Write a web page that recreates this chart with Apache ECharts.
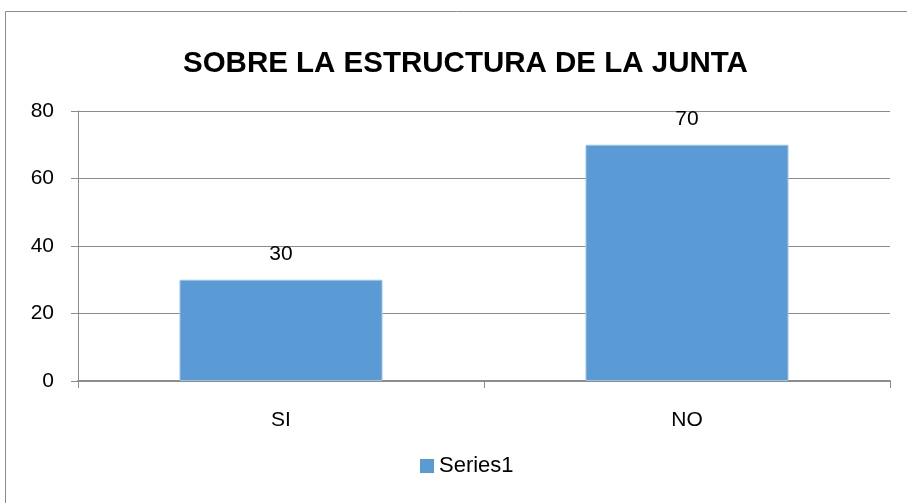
<!DOCTYPE html>
<html><head><meta charset="utf-8">
<script src="https://cdn.jsdelivr.net/npm/echarts@6/dist/echarts.min.js"></script>
<style>html,body{margin:0;padding:0;background:#fff}#c{width:907px;height:503px}</style>
</head><body><div id="c"></div>
<script>
var titleText = 'SOBRE LA ESTRUCTURA DE LA JUNTA';
var categories = ['SI', 'NO'];
var seriesName = 'Series1';
var values = [30, 70];
var yTicks = {min: 0, max: 80, interval: 20};

var font = 'Liberation Sans';
var chart = echarts.init(document.getElementById('c'));
chart.setOption({
  animation: false,
  backgroundColor: '#fff',
  graphic: [{type: 'rect', shape: {x: 5.5, y: 11.5, width: 920, height: 520}, style: {fill: 'none', stroke: '#8c8c8c', lineWidth: 1}}],
  title: {text: titleText, left: 178, top: 44, textStyle: {fontFamily: font, fontWeight: 'bold', fontSize: 29.5, color: '#000'}},
  legend: {data: [seriesName], bottom: 21, left: 415, icon: 'rect', itemWidth: 14, itemHeight: 14, itemGap: 7,
    itemStyle: {borderWidth: 0},
    textStyle: {fontFamily: font, fontSize: 22, color: '#000'}},
  grid: {left: 78, right: 17, top: 111, bottom: 122, containLabel: false},
  xAxis: {type: 'category', data: categories,
    axisLine: {lineStyle: {color: '#8c8c8c', width: 2}},
    axisTick: {show: true, length: 7, lineStyle: {color: '#8c8c8c'}},
    axisLabel: {fontFamily: font, fontSize: 21, color: '#000', margin: 29}},
  yAxis: {type: 'value', min: yTicks.min, max: yTicks.max, interval: yTicks.interval,
    axisLine: {show: true, lineStyle: {color: '#8c8c8c'}},
    axisTick: {show: true, length: 7, lineStyle: {color: '#8c8c8c'}},
    splitLine: {lineStyle: {color: '#8c8c8c'}},
    axisLabel: {fontFamily: font, fontSize: 21, color: '#000', margin: 24}},
  series: [{name: seriesName, type: 'bar', data: values, barCategoryGap: '50%',
    itemStyle: {color: '#5b9bd5', borderColor: '#9fc3e7', borderWidth: 1},
    label: {show: true, position: 'top', distance: 15, fontFamily: font, fontSize: 21, color: '#000'}}]
});
</script></body></html>
